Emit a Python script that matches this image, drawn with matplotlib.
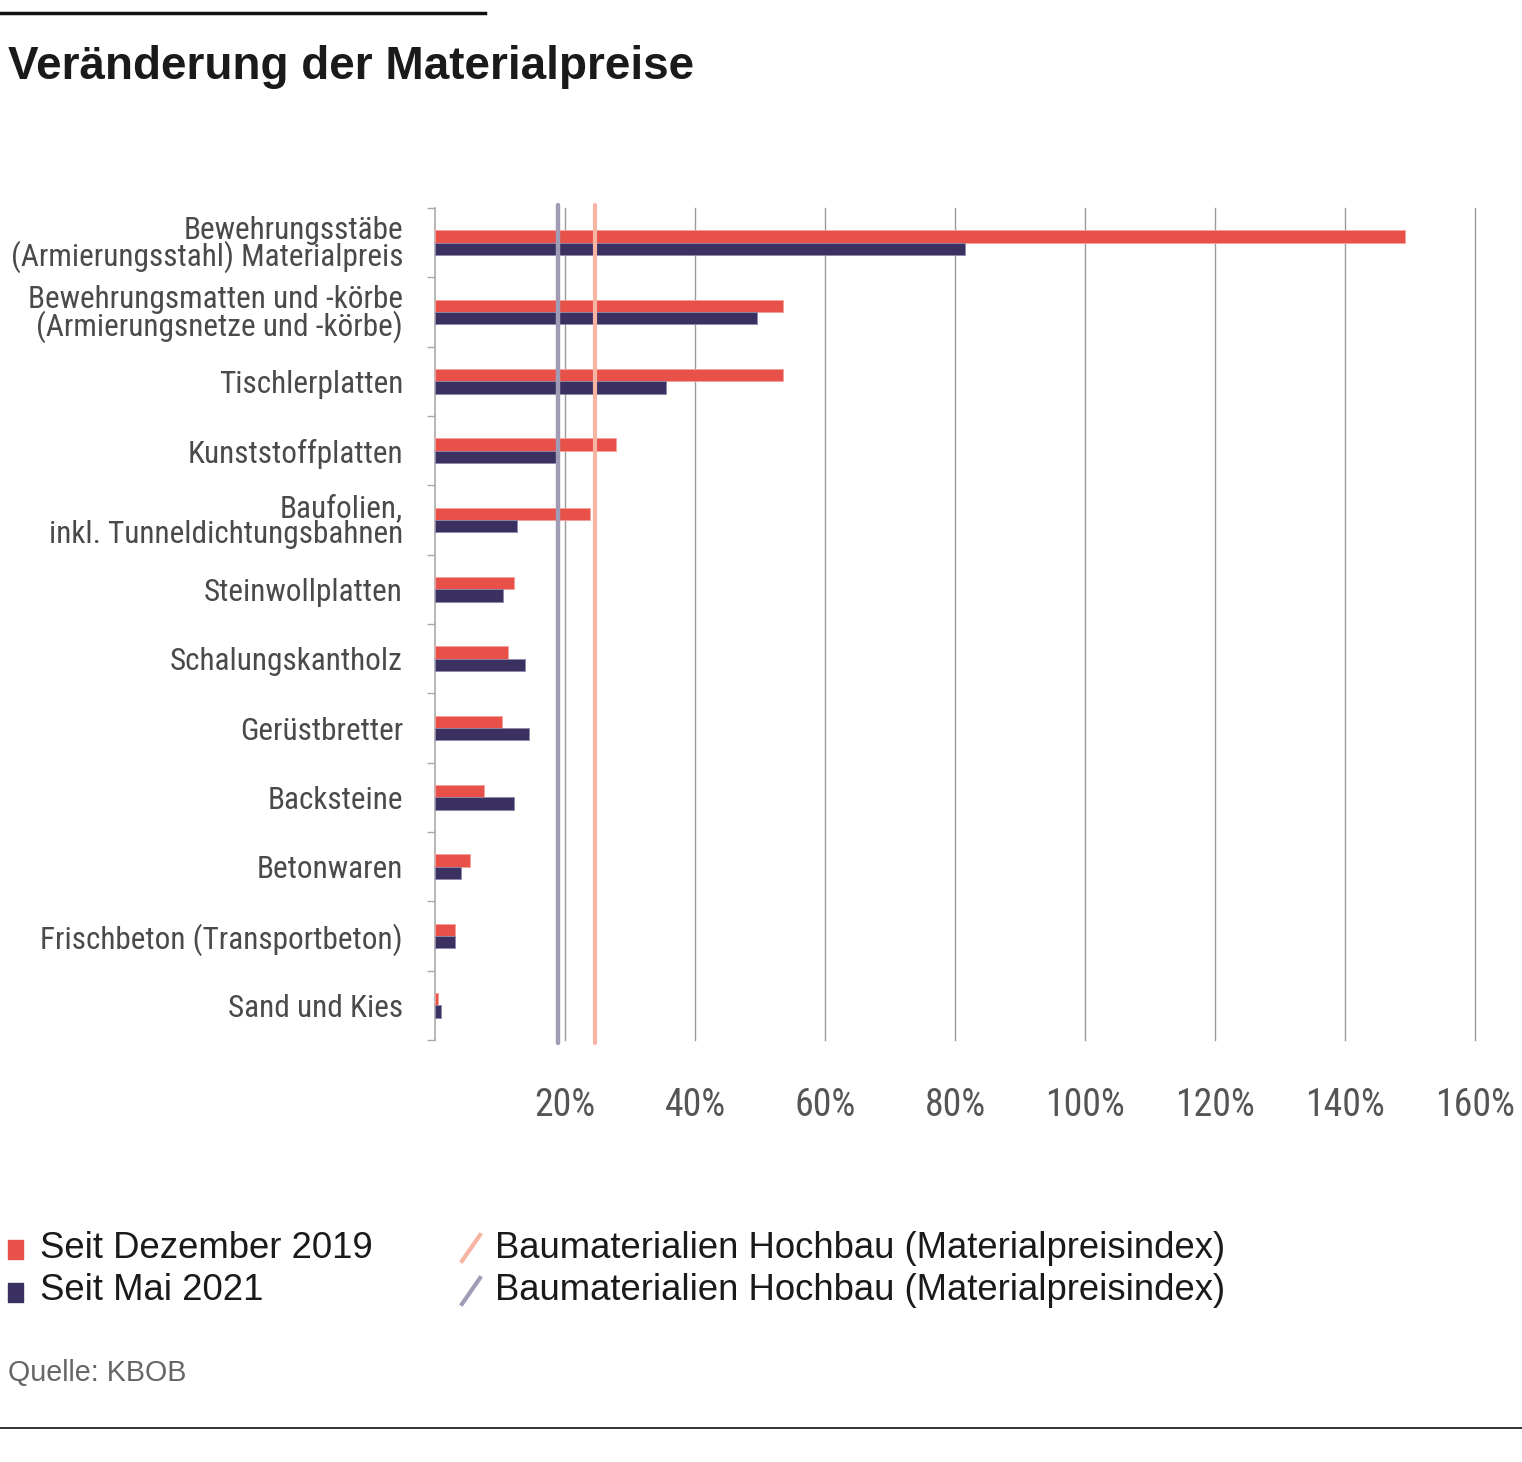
import matplotlib.pyplot as plt
from matplotlib import font_manager as fm
from matplotlib.patches import Rectangle
from matplotlib.lines import Line2D

# Data (percent change)
categories = [
    "Bewehrungsstäbe\n(Armierungsstahl) Materialpreis",
    "Bewehrungsmatten und -körbe\n(Armierungsnetze und -körbe)",
    "Tischlerplatten",
    "Kunststoffplatten",
    "Baufolien,\ninkl. Tunneldichtungsbahnen",
    "Steinwollplatten",
    "Schalungskantholz",
    "Gerüstbretter",
    "Backsteine",
    "Betonwaren",
    "Frischbeton (Transportbeton)",
    "Sand und Kies",
]
seit_dez_2019 = [149.2, 53.6, 53.6, 27.9, 23.8, 12.1, 11.2, 10.3, 7.6, 5.4, 3.1, 0.5]
seit_mai_2021 = [81.5, 49.5, 35.5, 18.8, 12.6, 10.4, 13.9, 14.4, 12.2, 4.0, 3.1, 0.9]
index_dez_2019 = 24.6
index_mai_2021 = 18.9
x_ticks = [20, 40, 60, 80, 100, 120, 140, 160]
x_tick_labels = ["20%", "40%", "60%", "80%", "100%", "120%", "140%", "160%"]

RED = "#e8514a"
NAVY = "#3b3161"
SALMON = "#f7b4a2"
LAVENDER = "#a19cb6"

# pick a narrow family if one is around, else plain Roboto
installed = {f.name for f in fm.fontManager.ttflist}
narrow_name = "Roboto"
for cand in ["Roboto Condensed", "Liberation Sans Narrow", "DejaVu Sans Condensed",
             "Open Sans Condensed", "Noto Sans Condensed"]:
    if cand in installed:
        narrow_name = cand
        break
narrow = [narrow_name, "DejaVu Sans"]
sans = ["Liberation Sans", "DejaVu Sans"]

W, H = 1522, 1462
fig = plt.figure(figsize=(W / 100, H / 100), dpi=100)
renderer = fig.canvas.get_renderer()


def fit_size(text, family, target_px, size=20.0, **kw):
    # scale font size so the text is target_px wide
    t = fig.text(0, 0, text, family=family, fontsize=size, **kw)
    w = t.get_window_extent(renderer).width
    t.remove()
    return size * target_px / w


label_size = min(fit_size("(Armierungsstahl) Materialpreis", narrow, 391), 25)
tick_size = min(fit_size("160%", narrow, 80), 30)

# axes placed in pixel terms
left, right, top, bottom = 435, 1475, 208, 1040
ax = fig.add_axes([left / W, 1 - bottom / H, (right - left) / W, (bottom - top) / H])

pos = list(range(len(categories)))
bh = 0.18
ax.barh([p - bh / 2 for p in pos], seit_dez_2019, height=bh, color=RED,
        edgecolor="#f2a09a", linewidth=0.6, zorder=3)
ax.barh([p + bh / 2 for p in pos], seit_mai_2021, height=bh, color=NAVY,
        edgecolor="#8f88a8", linewidth=0.6, zorder=3)

ax.set_xlim(0, 160)
ax.set_ylim(len(categories) - 0.5, -0.5)

# reference index lines, slightly taller than the plot area
ax.vlines(index_mai_2021, -0.55, len(categories) - 0.45, color=LAVENDER,
          linewidth=3.2, zorder=4, clip_on=False, capstyle="round")
ax.vlines(index_dez_2019, -0.55, len(categories) - 0.45, color=SALMON,
          linewidth=3.0, zorder=4, clip_on=False, capstyle="round")

# vertical grid
ax.set_xticks(x_ticks)
ax.set_xticklabels(x_tick_labels, family=narrow, fontsize=tick_size, color="#555555")
ax.tick_params(axis="x", length=0, pad=34)
for t in x_ticks:
    ax.axvline(t, color="#9a9a9a", linewidth=1.0, zorder=1, clip_on=False)

# category labels and boundary ticks
ax.set_yticks(pos)
ax.set_yticklabels(categories, family=narrow, fontsize=label_size, color="#4a4a4a",
                   linespacing=0.85)
ax.tick_params(axis="y", length=0, pad=23)
ax.set_yticks([p - 0.5 for p in pos] + [len(categories) - 0.5], minor=True)
ax.tick_params(axis="y", which="minor", length=6, width=1.0, color="#aaaaaa")

for s in ["top", "right", "bottom"]:
    ax.spines[s].set_visible(False)
ax.spines["left"].set_color("#aaaaaa")
ax.spines["left"].set_linewidth(1.2)

# title and top rule
fig.add_artist(Line2D([0, 485 / W], [1 - 13 / H, 1 - 13 / H], color="#111111",
                      linewidth=2.5))
fig.text(8 / W, 1 - 67 / H, "Veränderung der Materialpreise", family=sans,
         fontweight="bold", fontsize=33, color="#1a1a1a", va="center", ha="left")

# legend drawn by hand
fig.add_artist(Rectangle((8 / W, 1 - 1259 / H), 15 / W, 19 / H, color=RED,
                         transform=fig.transFigure))
fig.add_artist(Rectangle((8 / W, 1 - 1302 / H), 15 / W, 19 / H, color=NAVY,
                         transform=fig.transFigure))
fig.text(40 / W, 1 - 1248 / H, "Seit Dezember 2019", family=sans, fontsize=26.3,
         color="#1a1a1a", va="center")
fig.text(40 / W, 1 - 1291 / H, "Seit Mai 2021", family=sans, fontsize=26.3,
         color="#1a1a1a", va="center")
fig.add_artist(Line2D([462 / W, 480 / W], [1 - 1261 / H, 1 - 1235 / H],
                      color=SALMON, linewidth=3))
fig.add_artist(Line2D([462 / W, 480 / W], [1 - 1304 / H, 1 - 1278 / H],
                      color=LAVENDER, linewidth=3))
fig.text(495 / W, 1 - 1248 / H, "Baumaterialien Hochbau (Materialpreisindex)",
         family=sans, fontsize=26.3, color="#1a1a1a", va="center")
fig.text(495 / W, 1 - 1291 / H, "Baumaterialien Hochbau (Materialpreisindex)",
         family=sans, fontsize=26.3, color="#1a1a1a", va="center")

fig.text(8 / W, 1 - 1373 / H, "Quelle: KBOB", family=sans, fontsize=20.6,
         color="#666666", va="center")
fig.add_artist(Line2D([0, 1], [1 - 1428 / H, 1 - 1428 / H], color="#111111",
                      linewidth=1.2))

fig.savefig("out.png", dpi=100, facecolor="white")
